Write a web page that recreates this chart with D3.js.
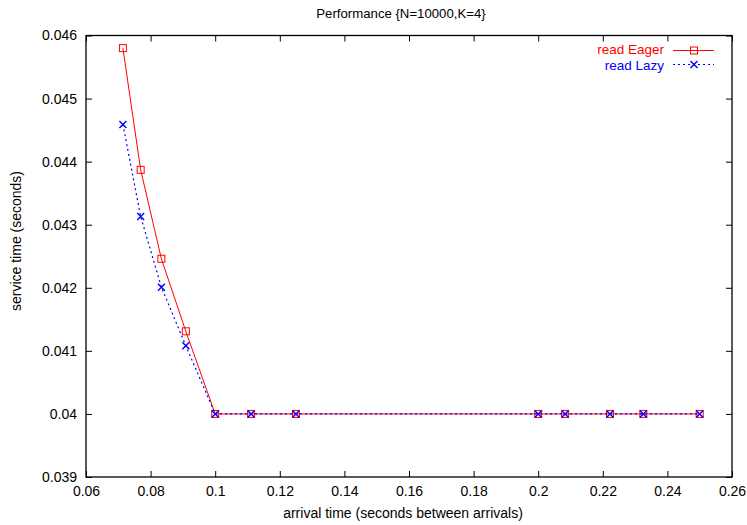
<!DOCTYPE html>
<html>
<head>
<meta charset="utf-8">
<script src="https://cdn.jsdelivr.net/npm/d3@7"></script>
<style>
  body { margin: 0; background: #fff; }
  text { font-family: "Liberation Sans", Arial, sans-serif; }
</style>
</head>
<body>
<div id="chart"></div>
<script>
// data
var arrival = [1/14, 1/13, 1/12, 1/11, 0.1, 1/9, 0.125, 0.2, 1/4.8, 1/4.5, 1/4.3, 0.25];
var eager = [0.04580, 0.04387, 0.04246, 0.04131, 0.04, 0.04, 0.04, 0.04, 0.04, 0.04, 0.04, 0.04];
var lazy = [0.04459, 0.04313, 0.04201, 0.04108, 0.04, 0.04, 0.04, 0.04, 0.04, 0.04, 0.04, 0.04];
var xTicks = [0.06, 0.08, 0.1, 0.12, 0.14, 0.16, 0.18, 0.2, 0.22, 0.24, 0.26];
var yTicks = [0.039, 0.04, 0.041, 0.042, 0.043, 0.044, 0.045, 0.046];

var svgWidth = 747;
var svgHeight = 525;
var margin = { top: 35.5, right: 15, bottom: 48, left: 86 };
var width = svgWidth - margin.left - margin.right;
var height = svgHeight - margin.top - margin.bottom;

var svg = d3.select("#chart")
  .append("svg")
  .attr("width", svgWidth)
  .attr("height", svgHeight);

var chart = svg.append("g")
  .attr("transform", `translate(${margin.left}, ${margin.top})`);

var x = d3.scaleLinear().domain([0.06, 0.26]).range([0, width]);
var y = d3.scaleLinear().domain([0.039, 0.046]).range([height, 0]);

var fmt = d => String(+d.toFixed(3));

// axes with inward ticks, mirrored on top and right
function styleAxis(g) {
  g.select(".domain").remove();
  g.selectAll("line").attr("stroke", "#000");
  g.selectAll("text").attr("fill", "#000").attr("font-size", "14px");
}

chart.append("g")
  .attr("transform", `translate(0, ${height})`)
  .call(d3.axisBottom(x).tickValues(xTicks).tickFormat(fmt).tickSizeInner(-6).tickSizeOuter(0).tickPadding(9))
  .call(styleAxis);

chart.append("g")
  .call(d3.axisTop(x).tickValues(xTicks).tickFormat("").tickSizeInner(-6).tickSizeOuter(0))
  .call(styleAxis);

chart.append("g")
  .call(d3.axisLeft(y).tickValues(yTicks).tickFormat(fmt).tickSizeInner(-6).tickSizeOuter(0).tickPadding(9))
  .call(styleAxis);

chart.append("g")
  .attr("transform", `translate(${width}, 0)`)
  .call(d3.axisRight(y).tickValues(yTicks).tickFormat("").tickSizeInner(-6).tickSizeOuter(0))
  .call(styleAxis);

chart.append("rect")
  .attr("width", width)
  .attr("height", height)
  .attr("fill", "none")
  .attr("stroke", "#000")
  .attr("stroke-width", 1.3);

var eagerData = arrival.map((a, i) => ({ x: a, y: eager[i] }));
var lazyData = arrival.map((a, i) => ({ x: a, y: lazy[i] }));

var line = d3.line().x(d => x(d.x)).y(d => y(d.y));

// read Eager
chart.append("path")
  .datum(eagerData)
  .attr("d", line)
  .attr("fill", "none")
  .attr("stroke", "#ff0000")
  .attr("stroke-width", 1);

chart.selectAll(".sq")
  .data(eagerData)
  .enter().append("rect")
  .attr("x", d => x(d.x) - 3.5)
  .attr("y", d => y(d.y) - 3.5)
  .attr("width", 7)
  .attr("height", 7)
  .attr("fill", "none")
  .attr("stroke", "#ff0000");

// read Lazy
chart.append("path")
  .datum(lazyData)
  .attr("d", line)
  .attr("fill", "none")
  .attr("stroke", "#0000ff")
  .attr("stroke-width", 1.2)
  .attr("stroke-dasharray", "2,3");

function crossPath(cx, cy) {
  var r = 3.5;
  return `M${cx - r},${cy - r}L${cx + r},${cy + r}M${cx - r},${cy + r}L${cx + r},${cy - r}`;
}

chart.selectAll(".cr")
  .data(lazyData)
  .enter().append("path")
  .attr("d", d => crossPath(x(d.x), y(d.y)))
  .attr("fill", "none")
  .attr("stroke", "#0000ff")
  .attr("stroke-width", 1.4);

// legend
var legend = svg.append("g");
legend.append("text")
  .attr("x", 664).attr("y", 54)
  .attr("text-anchor", "end")
  .attr("font-size", "13.5px")
  .attr("fill", "#ff0000")
  .text("read Eager");
legend.append("line")
  .attr("x1", 673).attr("x2", 714).attr("y1", 50.5).attr("y2", 50.5)
  .attr("stroke", "#ff0000");
legend.append("rect")
  .attr("x", 690.5).attr("y", 47).attr("width", 7).attr("height", 7)
  .attr("fill", "none").attr("stroke", "#ff0000");

legend.append("text")
  .attr("x", 664).attr("y", 69.5)
  .attr("text-anchor", "end")
  .attr("font-size", "13.5px")
  .attr("fill", "#0000ff")
  .text("read Lazy");
legend.append("line")
  .attr("x1", 673).attr("x2", 714).attr("y1", 64.5).attr("y2", 64.5)
  .attr("stroke", "#0000ff")
  .attr("stroke-width", 1.2)
  .attr("stroke-dasharray", "2,3");
legend.append("path")
  .attr("d", crossPath(694, 64.5))
  .attr("fill", "none")
  .attr("stroke", "#0000ff")
  .attr("stroke-width", 1.4);

// title and axis labels
svg.append("text")
  .attr("x", 401).attr("y", 18)
  .attr("text-anchor", "middle")
  .attr("font-size", "13.2px")
  .text("Performance {N=10000,K=4}");

svg.append("text")
  .attr("x", 403).attr("y", 518)
  .attr("text-anchor", "middle")
  .attr("font-size", "14px")
  .text("arrival time (seconds between arrivals)");

svg.append("text")
  .attr("transform", "translate(21, 241) rotate(-90)")
  .attr("text-anchor", "middle")
  .attr("font-size", "14px")
  .text("service time (seconds)");
</script>
</body>
</html>
